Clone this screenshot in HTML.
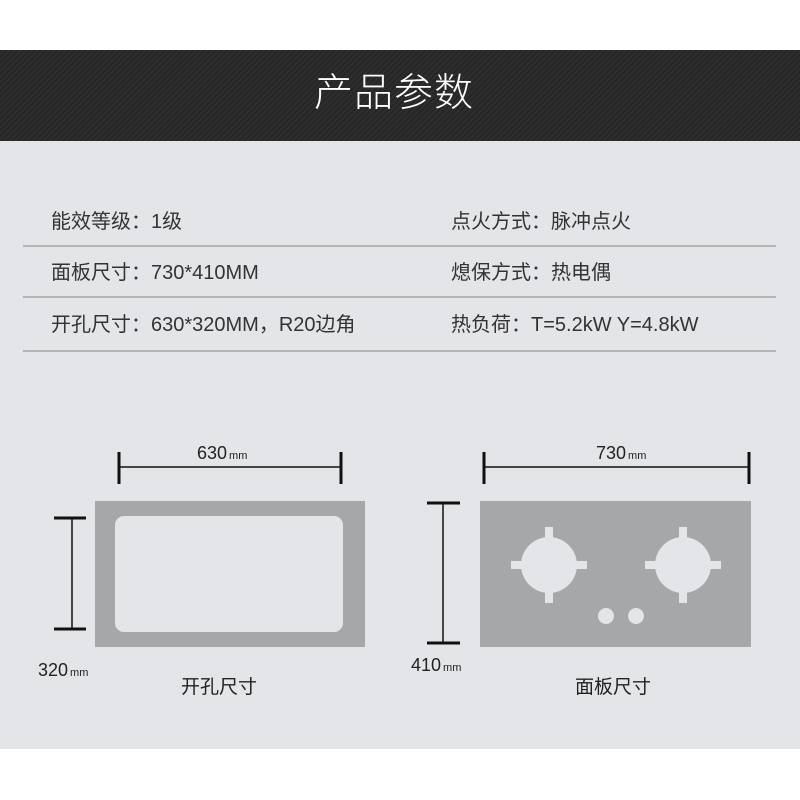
<!DOCTYPE html>
<html><head><meta charset="utf-8"><style>
body{margin:0;width:800px;height:800px;background:#fff;position:relative;overflow:hidden;font-family:"Liberation Sans","Noto Sans CJK SC",sans-serif;}
.hdr{position:absolute;left:0;top:50px;width:800px;height:91px;background:repeating-linear-gradient(135deg,#262626 0 2px,#2e2e2e 2px 4px);}
.title{position:absolute;left:-6px;width:800px;top:70px;text-align:center;color:#fff;font-size:39px;line-height:48px;letter-spacing:1px;font-weight:300;}
.bg{position:absolute;left:0;top:141px;width:800px;height:608px;background:#e4e5e8;}
.t{position:absolute;font-size:20px;color:#333;line-height:24px;white-space:nowrap;}
.ln{position:absolute;left:23px;width:753px;height:2px;background:#b4b4b4;}
</style></head><body>
<div class="hdr"></div>
<div class="title">产品参数</div>
<div class="bg"></div>
<div class="t" style="left:51px;top:210px">能效等级：1级</div>
<div class="t" style="left:451px;top:210px">点火方式：脉冲点火</div>
<div class="ln" style="top:245px"></div>
<div class="t" style="left:51px;top:261px">面板尺寸：730*410MM</div>
<div class="t" style="left:451px;top:261px">熄保方式：热电偶</div>
<div class="ln" style="top:296px"></div>
<div class="t" style="left:51px;top:313px">开孔尺寸：630*320MM，R20边角</div>
<div class="t" style="left:451px;top:313px">热负荷：T=5.2kW Y=4.8kW</div>
<div class="ln" style="top:350px"></div>
<svg style="position:absolute;left:0;top:0" width="800" height="800" font-family="Liberation Sans, Noto Sans CJK SC, sans-serif">
<g stroke="#111">
<line x1="119" y1="467" x2="341" y2="467" stroke-width="1.5"/>
<line x1="119" y1="452" x2="119" y2="484" stroke-width="3"/>
<line x1="341" y1="452" x2="341" y2="484" stroke-width="3"/>
<line x1="72" y1="518" x2="72" y2="629" stroke-width="1.5"/>
<line x1="54" y1="518" x2="86" y2="518" stroke-width="3"/>
<line x1="54" y1="629" x2="86" y2="629" stroke-width="3"/>
<line x1="484" y1="467" x2="749" y2="467" stroke-width="1.5"/>
<line x1="484" y1="452" x2="484" y2="484" stroke-width="3"/>
<line x1="749" y1="452" x2="749" y2="484" stroke-width="3"/>
<line x1="443" y1="503" x2="443" y2="643" stroke-width="1.5"/>
<line x1="427" y1="503" x2="460" y2="503" stroke-width="3"/>
<line x1="427" y1="643" x2="460" y2="643" stroke-width="3"/>
</g>
<rect x="95" y="501" width="270" height="146" fill="#a6a7a9"/>
<rect x="115" y="516" width="228" height="116" rx="9" fill="#e4e5e8"/>
<rect x="480" y="501" width="271" height="146" fill="#a6a7a9"/>
<g fill="#e4e5e8">
<circle cx="549" cy="565" r="28"/><rect x="511" y="561" width="76" height="8"/><rect x="545" y="527" width="8" height="76"/>
<circle cx="683" cy="565" r="28"/><rect x="645" y="561" width="76" height="8"/><rect x="679" y="527" width="8" height="76"/>
<circle cx="606" cy="616" r="8"/><circle cx="636" cy="616" r="8"/>
</g>
<g fill="#222">
<text x="197" y="459" font-size="18">630<tspan font-size="11" dx="2">mm</tspan></text>
<text x="596" y="459" font-size="18">730<tspan font-size="11" dx="2">mm</tspan></text>
<text x="38" y="676" font-size="18">320<tspan font-size="11" dx="2">mm</tspan></text>
<text x="411" y="671" font-size="18">410<tspan font-size="11" dx="2">mm</tspan></text>
<text x="219" y="693" font-size="19" text-anchor="middle">开孔尺寸</text>
<text x="613" y="693" font-size="19" text-anchor="middle">面板尺寸</text>
</g>
</svg>
</body></html>
